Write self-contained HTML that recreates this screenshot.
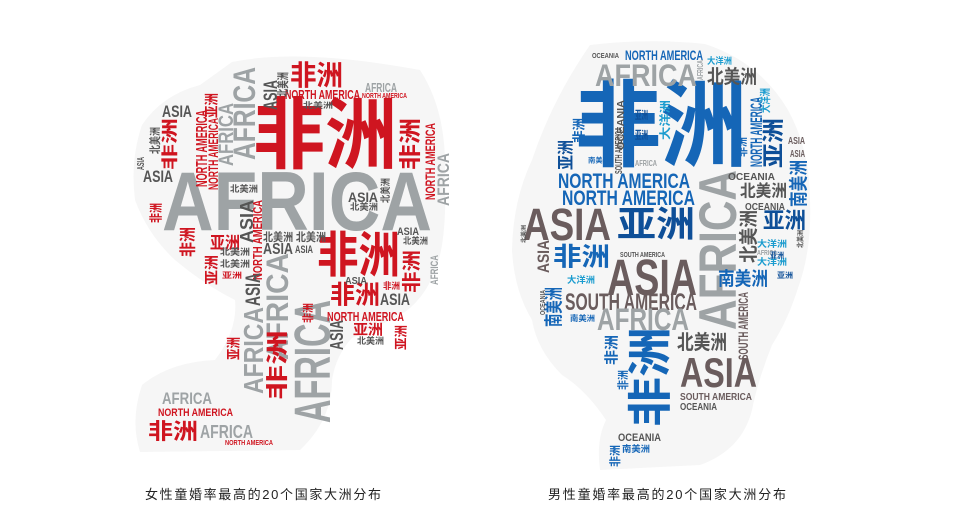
<!DOCTYPE html>
<html><head><meta charset="utf-8">
<style>
html,body{margin:0;padding:0;background:#fff;}
svg{display:block;}
text{font-family:"Liberation Sans","Noto Sans CJK SC",sans-serif;font-weight:bold;}
.cap{font-weight:normal;fill:#222;}
</style></head>
<body>
<svg id="chart" width="970" height="515" viewBox="0 0 970 515">
<path fill="#f6f6f6" d="M232,62 Q300,48 420,70 Q446,110 445,170 Q447,235 438,262 Q428,295 405,312 Q380,326 352,338 Q336,355 332,380 Q332,420 300,450 L140,452 Q130,420 142,385 Q170,362 215,360 Q238,330 235,300 Q205,285 175,260 Q148,235 135,200 Q130,160 142,125 Q162,95 200,85 Z"/>
<path fill="#f6f6f6" d="M590,45 Q650,38 705,44 Q760,62 788,110 Q810,150 810,200 Q812,250 798,288 Q788,320 772,345 Q758,380 752,410 Q742,450 700,465 L600,470 Q596,440 606,420 Q586,390 562,375 Q537,350 532,320 Q514,290 512,250 Q513,200 532,160 Q552,100 590,45 Z"/>
<g id="words"></g>
<text class="cap" x="145" y="499" font-size="13" textLength="236" lengthAdjust="spacing">女性童婚率最高的20个国家大洲分布</text>
<text class="cap" x="548" y="499" font-size="13" textLength="238" lengthAdjust="spacing">男性童婚率最高的20个国家大洲分布</text>
</svg>
<script>
// colors
var R="#cf1520",G="#9ea3a5",D="#555555",B="#1566b7",DB="#0e4f98",C="#1b9ccf",M="#6a5c5d";
// word, x, y, w, h, color, rotated
var leftWords=[
["非洲",253,100,144,70,R,0],["AFRICA",162,170,270,60,G,0],["非洲",317,233,83,44,R,0],
["非洲",290,63,53,25,R,0],["NORTH AMERICA",285,90,75,9,R,0],["AFRICA",365,83,32,9,G,0],
["NORTH AMERICA",362,93,45,5,R,0],["ASIA",263,80,14,30,D,1],["北美洲",277,72,11,25,D,1],
["北美洲",303,102,30,7,D,0],["AFRICA",232,67,23,93,G,1],["AFRICA",218,103,15,63,G,1],
["NORTH AMERICA",196,110,11,77,R,1],["NORTH AMERICA",208,118,10,72,R,1],["亚洲",205,93,13,25,R,1],
["ASIA",162,105,30,12,D,0],["非洲",162,118,15,52,R,1],["北美洲",150,127,10,27,D,1],
["ASIA",143,170,30,12,D,0],["ASIA",137,157,7,13,D,1],["非洲",150,203,12,20,R,1],
["非洲",400,118,20,52,R,1],["NORTH AMERICA",425,123,10,77,R,1],["AFRICA",437,153,12,53,G,1],
["北美洲",230,185,28,8,D,0],["ASIA",348,192,30,10,D,0],["北美洲",350,203,28,8,D,0],
["北美洲",381,178,9,25,D,1],["非洲",180,227,15,30,R,1],["亚洲",210,235,30,15,R,0],
["北美洲",220,248,30,8,D,0],["北美洲",220,260,30,8,D,0],["亚洲",205,255,13,30,R,1],
["亚洲",222,272,20,7,R,0],["ASIA",240,200,13,43,D,1],["NORTH AMERICA",253,200,9,80,R,1],
["北美洲 北美洲",263,232,63,10,D,0],["ASIA",263,243,30,11,D,0],["ASIA",295,245,18,8,D,0],
["AFRICA",293,300,37,123,G,1],["AFRICA",265,253,23,107,G,1],["AFRICA",243,307,20,87,G,1],
["ASIA",245,273,15,33,D,1],["非洲",267,330,20,70,R,1],["亚洲",227,337,13,23,R,1],
["非洲",330,283,50,23,R,0],["ASIA",380,293,30,12,D,0],["NORTH AMERICA",327,312,77,9,R,0],
["亚洲",353,323,30,13,R,0],["北美洲",357,337,27,8,D,0],["ASIA",330,320,13,30,D,1],
["非洲",403,250,17,43,R,1],["AFRICA",430,255,8,30,G,1],["亚洲",395,325,12,25,R,1],
["ASIA",397,227,22,8,D,0],["北美洲",403,237,25,8,D,0],["非洲",303,303,10,20,R,1],
["ASIA",345,277,22,7,D,0],["非洲",383,282,17,8,R,0],
["AFRICA",162,392,50,12,G,0],["NORTH AMERICA",158,408,75,8,R,0],["非洲",148,421,50,20,R,0],
["AFRICA",200,425,53,13,G,0],["NORTH AMERICA",225,440,48,5,R,0]
];
var rightWords=[
["非洲",575,83,172,85,B,0],["AFRICA",595,63,102,23,G,0],["NORTH AMERICA",625,50,78,10,B,0],
["OCEANIA",592,53,27,5,D,0],["大洋洲",707,57,25,8,C,0],["北美洲",707,68,50,17,D,0],
["AFRICA",697,60,6,20,G,1],["NORTH AMERICA",558,173,132,15,B,0],["NORTH AMERICA",562,190,133,15,B,0],
["ASIA",523,207,88,33,M,0],["亚洲",617,208,78,32,DB,0],["非洲",553,245,57,23,B,0],
["ASIA",607,258,90,37,M,0],["SOUTH AMERICA",565,293,132,17,M,0],["AFRICA",597,307,92,23,G,0],
["AFRICA",698,170,38,160,G,1],["非洲",630,327,40,100,B,1],["北美洲",677,333,50,18,D,0],
["ASIA",680,357,77,30,M,0],["SOUTH AMERICA",680,393,72,7,M,0],["OCEANIA",680,403,37,7,D,0],
["OCEANIA",618,433,43,8,D,0],["南美洲",622,445,28,8,B,0],["非洲",610,445,10,22,B,1],
["亚洲",763,118,20,50,DB,1],["南美洲",790,160,17,47,B,1],["北美洲",740,183,47,15,D,0],
["OCEANIA",745,203,40,7,D,0],["亚洲",763,210,43,20,DB,0],["北美洲",740,210,17,53,D,1],
["大洋洲",757,240,30,8,C,0],["大洋洲",757,258,30,8,C,0],["南美洲",718,270,50,17,B,0],
["亚洲",777,272,16,7,DB,0],["OCEANIA",728,173,47,7,D,0],["ASIA",788,137,17,7,M,0],
["ASIA",790,150,15,7,M,0],["NORTH AMERICA",750,97,12,70,B,1],["大洋洲",760,88,10,25,C,1],
["亚洲",558,140,15,30,DB,1],["非洲",573,118,12,25,B,1],["南美洲",588,157,22,6,B,0],
["ASIA",537,240,12,33,M,1],["南美洲",545,287,17,40,B,1],["大洋洲",567,276,28,8,C,0],
["南美洲",570,315,25,7,B,0],["OCEANIA",540,290,5,25,D,1],["亚洲",635,110,13,10,DB,0],
["亚洲",635,130,13,10,DB,0],["大洋洲",660,100,10,40,C,1],["OCEANIA",617,100,7,50,D,1],
["SOUTH AMERICA",615,127,7,47,D,1],["非洲",737,137,10,20,B,1],["SOUTH AMERICA",738,292,10,68,M,1],
["非洲",605,335,13,30,B,1],["非洲",618,370,10,20,B,1],["AFRICA",635,160,22,6,G,0],
["SOUTH AMERICA",620,252,45,5,D,0],["AFRICA",757,250,20,5,G,0],["亚洲",770,252,14,7,DB,0],
["北美洲",521,225,5,18,D,1],["北美洲",797,230,6,18,D,1]
];
var NS="http://www.w3.org/2000/svg";
var g=document.getElementById("words");
function isLatin(s){return /^[A-Z ]+$/.test(s);}
function place(wd,side){
  var t=wd[0],x=wd[1],y=wd[2],w=wd[3],h=wd[4],col=wd[5],rot=wd[6];
  var len=rot?h:w, thick=rot?w:h;
  var lat=isLatin(t);
  var fs=lat?thick/0.72:thick/0.9;
  var el=document.createElementNS(NS,"text");
  el.textContent=t;
  el.setAttribute("font-size",fs.toFixed(1));
  el.setAttribute("fill",col);
  el.setAttribute("textLength",len);
  el.setAttribute("lengthAdjust","spacingAndGlyphs");
  var off=lat?0:fs*0.1;
  if(!rot){
    el.setAttribute("x",x);el.setAttribute("y",(y+h-off).toFixed(1));
  }else{
    var bx=x+w-off, by=y+h;
    el.setAttribute("x",0);el.setAttribute("y",0);
    el.setAttribute("transform","translate("+bx.toFixed(1)+","+by+") rotate(-90)");
  }
  
  
  g.appendChild(el);
}
leftWords.forEach(function(w){place(w,"female");});
rightWords.forEach(function(w){place(w,"male");});
</script>
</body></html>
